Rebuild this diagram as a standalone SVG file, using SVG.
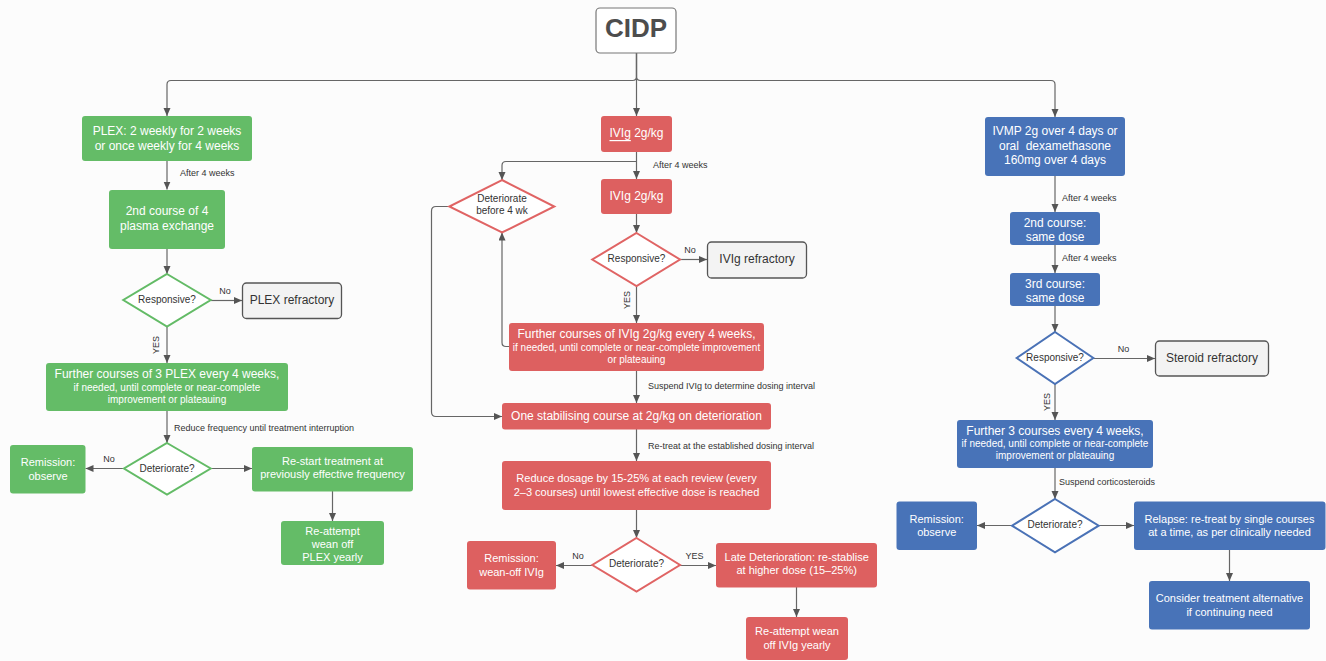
<svg xmlns="http://www.w3.org/2000/svg" width="1326" height="661" viewBox="0 0 1326 661">
<defs>
<marker id="ah" markerUnits="userSpaceOnUse" markerWidth="9" markerHeight="8" refX="8" refY="3.5" orient="auto">
<path d="M0,0 L8,3.5 L0,7 z" fill="#555"/>
</marker>
<style>
text{font-family:"Liberation Sans",Arial,sans-serif;text-anchor:middle;dominant-baseline:central}
.g{fill:#64bc67}
.r{fill:#dd6060}
.b{fill:#4873b8}
.bx{rx:3;ry:3}
.w{fill:#fff;font-size:12px}
.w11{fill:#fff;font-size:11px}
.w10{fill:#fff;font-size:10px}
.dg{fill:#fff;stroke:#63bb66;stroke-width:2}
.dr{fill:#fff;stroke:#e06464;stroke-width:2}
.db{fill:#fff;stroke:#4a72b6;stroke-width:2}
.dt{fill:#333;font-size:10px}
.ref{fill:#f3f3f3;stroke:#555;stroke-width:1.3}
.rt{fill:#333;font-size:12px}
.lb{fill:#333;font-size:9px;text-anchor:start}
.lc{fill:#333;font-size:9px}
.cn{fill:none;stroke:#666;stroke-width:1.2}
.cn path{marker-end:url(#ah)}
</style>
</defs>
<rect x="0" y="0" width="1326" height="661" fill="#fcfcfc"/>

<g id="connectors" class="cn">
<path d="M636.5,53 V116"/>
<path d="M636.5,53 V76.5 Q636.5,80.5 632.5,80.5 H171 Q167,80.5 167,84.5 V116"/>
<path d="M636.5,53 V76.5 Q636.5,80.5 640.5,80.5 H1051 Q1055,80.5 1055,84.5 V117"/>
<path d="M167,161 V189.5"/>
<path d="M167,249 V274"/>
<path d="M210.7,300.5 H242"/>
<path d="M167,326.5 V363"/>
<path d="M167,411 V443"/>
<path d="M124,468.5 H85.5"/>
<path d="M210.7,468.5 H252"/>
<path d="M332.5,491 V521"/>
<path d="M636.5,152 V179"/>
<path d="M636.5,161.5 H506 Q502,161.5 502,165.5 V180"/>
<path d="M636.5,214 V233"/>
<path d="M680,259.5 H707"/>
<path d="M636.5,286 V323"/>
<path d="M509,346.5 H506 Q502,346.5 502,342.5 V232.5"/>
<path d="M449.3,206.5 H436 Q431.5,206.5 431.5,211 V412 Q431.5,416.5 436,416.5 H502"/>
<path d="M636.5,371 V403"/>
<path d="M636.5,429 V461"/>
<path d="M636.5,510 V538"/>
<path d="M592.3,565.5 H556"/>
<path d="M680,565.5 H716"/>
<path d="M796.5,587 V617"/>
<path d="M1055,176 V212"/>
<path d="M1055,245 V273"/>
<path d="M1055,306 V332"/>
<path d="M1093.3,358.5 H1155"/>
<path d="M1055,384 V420"/>
<path d="M1055,468 V499"/>
<path d="M1012,525.5 H977"/>
<path d="M1098.7,525.5 H1134"/>
<path d="M1229.5,550 V581"/>
</g>

<g id="labels">
<text class="lb" x="180" y="173">After 4 weeks</text>
<text class="lc" x="225" y="291">No</text>
<text class="lc" transform="translate(156,345) rotate(-90)">YES</text>
<text class="lb" x="174" y="428">Reduce frequency until treatment interruption</text>
<text class="lc" x="109" y="459">No</text>
<text class="lb" x="653" y="164.5">After 4 weeks</text>
<text class="lc" x="690" y="250">No</text>
<text class="lc" transform="translate(626.7,300) rotate(-90)">YES</text>
<text class="lb" x="648" y="386">Suspend IVIg to determine dosing interval</text>
<text class="lb" x="648" y="446">Re-treat at the established dosing interval</text>
<text class="lc" x="578" y="556">No</text>
<text class="lc" x="694.5" y="556">YES</text>
<text class="lb" x="1062" y="197.5">After 4 weeks</text>
<text class="lb" x="1062" y="258">After 4 weeks</text>
<text class="lc" x="1123.5" y="349">No</text>
<text class="lc" transform="translate(1046.7,402) rotate(-90)">YES</text>
<text class="lb" x="1059" y="481.5">Suspend corticosteroids</text>
</g>

<g id="cidp">
<rect x="596" y="8" width="80" height="45" rx="4" fill="#fff" stroke="#777" stroke-width="1.2"/>
<text x="636" y="27.5" style="font-size:26px;font-weight:bold;fill:#4d4d4d">CIDP</text>
</g>

<g id="plex1">
<rect class="g bx" x="82" y="116" width="170" height="45"/>
<text class="w" x="167" y="131">PLEX: 2 weekly for 2 weeks</text>
<text class="w" x="167" y="145.5">or once weekly for 4 weeks</text>
</g>
<g id="plex2">
<rect class="g bx" x="109" y="190" width="116" height="59"/>
<text class="w" x="167" y="211">2nd course of 4</text>
<text class="w" x="167" y="225.5">plasma exchange</text>
</g>
<g id="plex-resp">
<polygon class="dg" points="167,274 210.7,300 167,326.5 123.3,300"/>
<text class="dt" x="167" y="299.5">Responsive?</text>
</g>
<g id="plex-ref">
<rect class="ref" x="242.5" y="283" width="99" height="35.5" rx="4"/>
<text class="rt" x="292" y="299.5">PLEX refractory</text>
</g>
<g id="plex3">
<rect class="g bx" x="46" y="363" width="242" height="48"/>
<text class="w" x="167" y="374">Further courses of 3 PLEX every 4 weeks,</text>
<text class="w10" x="167" y="387">if needed, until complete or near-complete</text>
<text class="w10" x="167" y="399">improvement or plateauing</text>
</g>
<g id="plex-det">
<polygon class="dg" points="167,443 210.7,468.5 167,494.5 124,468.5"/>
<text class="dt" x="167" y="468">Deteriorate?</text>
</g>
<g id="plex-rem">
<rect class="g bx" x="10" y="445" width="75.5" height="48.5"/>
<text class="w11" x="48" y="462">Remission:</text>
<text class="w11" x="48" y="475.5">observe</text>
</g>
<g id="plex-restart">
<rect class="g bx" x="252" y="447" width="161" height="44.5"/>
<text class="w11" x="332.5" y="460.5">Re-start treatment at</text>
<text class="w11" x="332.5" y="474">previously effective frequency</text>
</g>
<g id="plex-wean">
<rect class="g bx" x="281" y="521" width="103" height="44"/>
<text class="w11" x="332.5" y="530.5">Re-attempt</text>
<text class="w11" x="332.5" y="543.5">wean off</text>
<text class="w11" x="332.5" y="557">PLEX yearly</text>
</g>

<g id="ivig1">
<rect class="r bx" x="601" y="116" width="71" height="36"/>
<text class="w" x="636.5" y="133"><tspan text-decoration="underline">IVIg</tspan> 2g/kg</text>
</g>
<g id="ivig2">
<rect class="r bx" x="601" y="179" width="71" height="35"/>
<text class="w" x="636.5" y="196">IVIg 2g/kg</text>
</g>
<g id="ivig-det4">
<polygon class="dr" points="502,180 554.3,206.5 502,232.5 449.3,206.5"/>
<text class="dt" x="502" y="198.5">Deteriorate</text>
<text class="dt" x="502" y="210.5">before 4 wk</text>
</g>
<g id="ivig-resp">
<polygon class="dr" points="636.5,233 680,259.5 636.5,286 592.3,259.5"/>
<text class="dt" x="636.5" y="258.5">Responsive?</text>
</g>
<g id="ivig-ref">
<rect class="ref" x="707.5" y="242" width="99" height="36" rx="4"/>
<text class="rt" x="757" y="259">IVIg refractory</text>
</g>
<g id="ivig3">
<rect class="r bx" x="509" y="323" width="255" height="48"/>
<text class="w" x="636.5" y="334">Further courses of IVIg 2g/kg every 4 weeks,</text>
<text class="w10" x="636.5" y="347">if needed, until complete or near-complete improvement</text>
<text class="w10" x="636.5" y="359">or plateauing</text>
</g>
<g id="ivig-stab">
<rect class="r bx" x="502" y="403" width="269" height="26.5"/>
<text class="w" x="636.5" y="415.5">One stabilising course at 2g/kg on deterioration</text>
</g>
<g id="ivig-reduce">
<rect class="r bx" x="502" y="461" width="269" height="49"/>
<text class="w11" x="636.5" y="478">Reduce dosage by 15-25% at each review (every</text>
<text class="w11" x="636.5" y="491.5">2–3 courses) until lowest effective dose is reached</text>
</g>
<g id="ivig-det">
<polygon class="dr" points="636.5,538 680,565 636.5,591.7 592.3,565"/>
<text class="dt" x="636.5" y="563.5">Deteriorate?</text>
</g>
<g id="ivig-rem">
<rect class="r bx" x="467" y="541" width="89" height="48.5"/>
<text class="w11" x="511.5" y="558">Remission:</text>
<text class="w11" x="511.5" y="571.5">wean-off IVIg</text>
</g>
<g id="ivig-late">
<rect class="r bx" x="716" y="543" width="161" height="44.5"/>
<text class="w11" x="796.7" y="556.5">Late Deterioration: re-stablise</text>
<text class="w11" x="796.7" y="570">at higher dose (15–25%)</text>
</g>
<g id="ivig-wean">
<rect class="r bx" x="746" y="617" width="102" height="43"/>
<text class="w11" x="797" y="631">Re-attempt wean</text>
<text class="w11" x="797" y="644.5">off IVIg yearly</text>
</g>

<g id="ivmp1">
<rect class="b bx" x="985" y="117" width="140" height="59"/>
<text class="w" x="1055" y="131">IVMP 2g over 4 days or</text>
<text class="w" x="1055" y="145.5" xml:space="preserve">oral  dexamethasone</text>
<text class="w" x="1055" y="160">160mg over 4 days</text>
</g>
<g id="ivmp2">
<rect class="b bx" x="1010" y="212" width="90" height="33"/>
<text class="w" x="1055" y="222.5">2nd course:</text>
<text class="w" x="1055" y="237">same dose</text>
</g>
<g id="ivmp3">
<rect class="b bx" x="1010" y="273" width="90" height="33"/>
<text class="w" x="1055" y="283.5">3rd course:</text>
<text class="w" x="1055" y="298">same dose</text>
</g>
<g id="ivmp-resp">
<polygon class="db" points="1055,332 1093.3,358 1055,384 1016.7,358"/>
<text class="dt" x="1055" y="357">Responsive?</text>
</g>
<g id="ivmp-ref">
<rect class="ref" x="1155.5" y="341" width="113" height="35" rx="4"/>
<text class="rt" x="1212" y="357.5">Steroid refractory</text>
</g>
<g id="ivmp4">
<rect class="b bx" x="957" y="420" width="196" height="48"/>
<text class="w" x="1055" y="430.5">Further 3 courses every 4 weeks,</text>
<text class="w10" x="1055" y="443.5">if needed, until complete or near-complete</text>
<text class="w10" x="1055" y="455.5">improvement or plateauing</text>
</g>
<g id="ivmp-det">
<polygon class="db" points="1055,499 1098.7,525.7 1055,552.3 1012,525.7"/>
<text class="dt" x="1055" y="524.5">Deteriorate?</text>
</g>
<g id="ivmp-rem">
<rect class="b bx" x="896.5" y="501.5" width="80.5" height="48.5"/>
<text class="w11" x="936.7" y="518.5">Remission:</text>
<text class="w11" x="936.7" y="531.5">observe</text>
</g>
<g id="ivmp-relapse">
<rect class="b bx" x="1134" y="501.5" width="191.5" height="48.5"/>
<text class="w11" x="1229.5" y="518.5">Relapse: re-treat by single courses</text>
<text class="w11" x="1229.5" y="531.5">at a time, as per clinically needed</text>
</g>
<g id="ivmp-alt">
<rect class="b bx" x="1149" y="581" width="161" height="48.5"/>
<text class="w11" x="1229.5" y="598">Consider treatment alternative</text>
<text class="w11" x="1229.5" y="611.5">if continuing need</text>
</g>
</svg>
